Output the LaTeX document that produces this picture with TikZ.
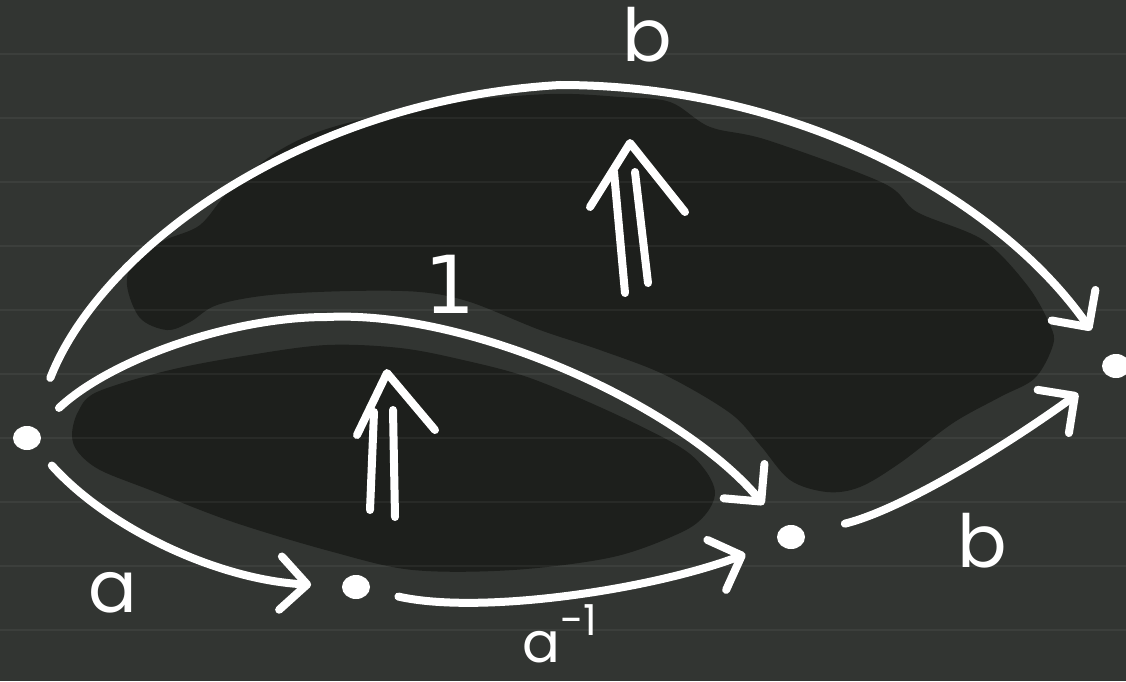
\documentclass[tikz,border=0pt]{standalone}
\usepackage{fontspec}
\setmainfont{Poppins}
\newfontfamily\onefont{DejaVu Sans}
\usetikzlibrary{arrows.meta,shapes.geometric}
\definecolor{bg}{HTML}{323532}
\definecolor{blob}{HTML}{1D1F1C}
\begin{document}
\begin{tikzpicture}[x=0.75pt,y=-0.75pt,
  stroke/.style={white,line width=6pt,line cap=round,line join=round},
  conn/.style={stroke,-{Straight Barb[length=20pt,width=40pt,round]}},
  dot/.style={ellipse,fill=white,minimum width=21pt,minimum height=18pt,inner sep=0pt},
  lbl/.style={text=white,inner sep=0pt,anchor=base},
  ruled/.style={white,opacity=0.05,line width=1.5pt}]
\fill[bg] (0,0) rectangle (1126,681);
\useasboundingbox (0,0) rectangle (1126,681);
% shaded regions
\fill[blob] plot[smooth cycle, tension=0.55] coordinates {
  (127,285) (135,258) (165,240) (200,225) (230,190) (280,150) (340,125) (450,103)
  (550,94) (620,97) (670,102) (710,127) (767,140) (883,183) (917,212) (983,240)
  (1027,285) (1050,325) (1053,345) (1035,378) (1000,397) (953,423) (900,463)
  (860,487) (827,492) (790,480) (760,445) (730,413) (665,375) (600,350) (540,330)
  (470,302) (420,292) (350,291) (270,295) (217,305) (190,322) (167,330) (140,318)};
\fill[blob] plot[smooth cycle, tension=0.55] coordinates {
  (72,435) (78,412) (97,392) (170,370) (250,355) (327,345) (400,348) (463,360)
  (530,378) (613,413) (680,447) (705,470) (715,493) (705,515) (680,533) (613,557)
  (513,570) (413,570) (333,552) (233,522) (150,490) (100,470) (78,452)};
% ruled lines
\foreach \y in {54,118,...,630} \draw[ruled] (0,\y) -- (1126,\y);
% points
\node[dot] (A) at (27,438) {};
\node[dot] (B) at (356,587) {};
\node[dot] (C) at (791,537) {};
\node[dot] (D) at (1116,366) {};
% 1-cells
\draw[conn, shorten <=18pt, shorten >=23pt] (A) .. controls (110,530) and (220,580) .. (B);
\draw[conn, shorten <=22pt, shorten >=26pt] (B) .. controls (480,615) and (650,590) .. (C);
\draw[conn, shorten <=31pt, shorten >=25pt] (C) .. controls (900,510) and (1000,450) .. (D);
\draw[conn, shorten <=23pt, shorten >=22pt] (A) .. controls (110,360) and (230,317) .. (327,317)
  .. controls (470,310) and (680,405) .. (C);
\draw[conn, shorten <=39pt, shorten >=23pt] (A) .. controls (100,250) and (300,100) .. (560,85)
  .. controls (800,85) and (1000,200) .. (D);
% 2-cells
\draw[stroke] (370,510) -- (374,412);
\draw[stroke] (395,517) -- (393,410);
\draw[stroke] (357,435) -- (387,373) -- (435,430);
\draw[stroke] (625,293) -- (614,172);
\draw[stroke] (648,283) -- (635,172);
\draw[stroke] (590,207) -- (630,143) -- (685,212);
% labels
\node[lbl] (lbtop) at (647,62) {\fontsize{55}{55}\selectfont b};
\node[lbl] (lone) at (450,313) {\onefont\fontsize{60}{60}\selectfont 1};
\node[lbl] (la) at (113,612) {\fontsize{54}{54}\selectfont a};
\node[lbl,anchor=base west] (lainv) at (522,662) {\fontsize{42}{42}\selectfont a\raisebox{20pt}{\fontsize{32}{32}\selectfont -1}};
\node[lbl] (lbbot) at (982,567) {\fontsize{55}{55}\selectfont b};
\end{tikzpicture}
\end{document}
